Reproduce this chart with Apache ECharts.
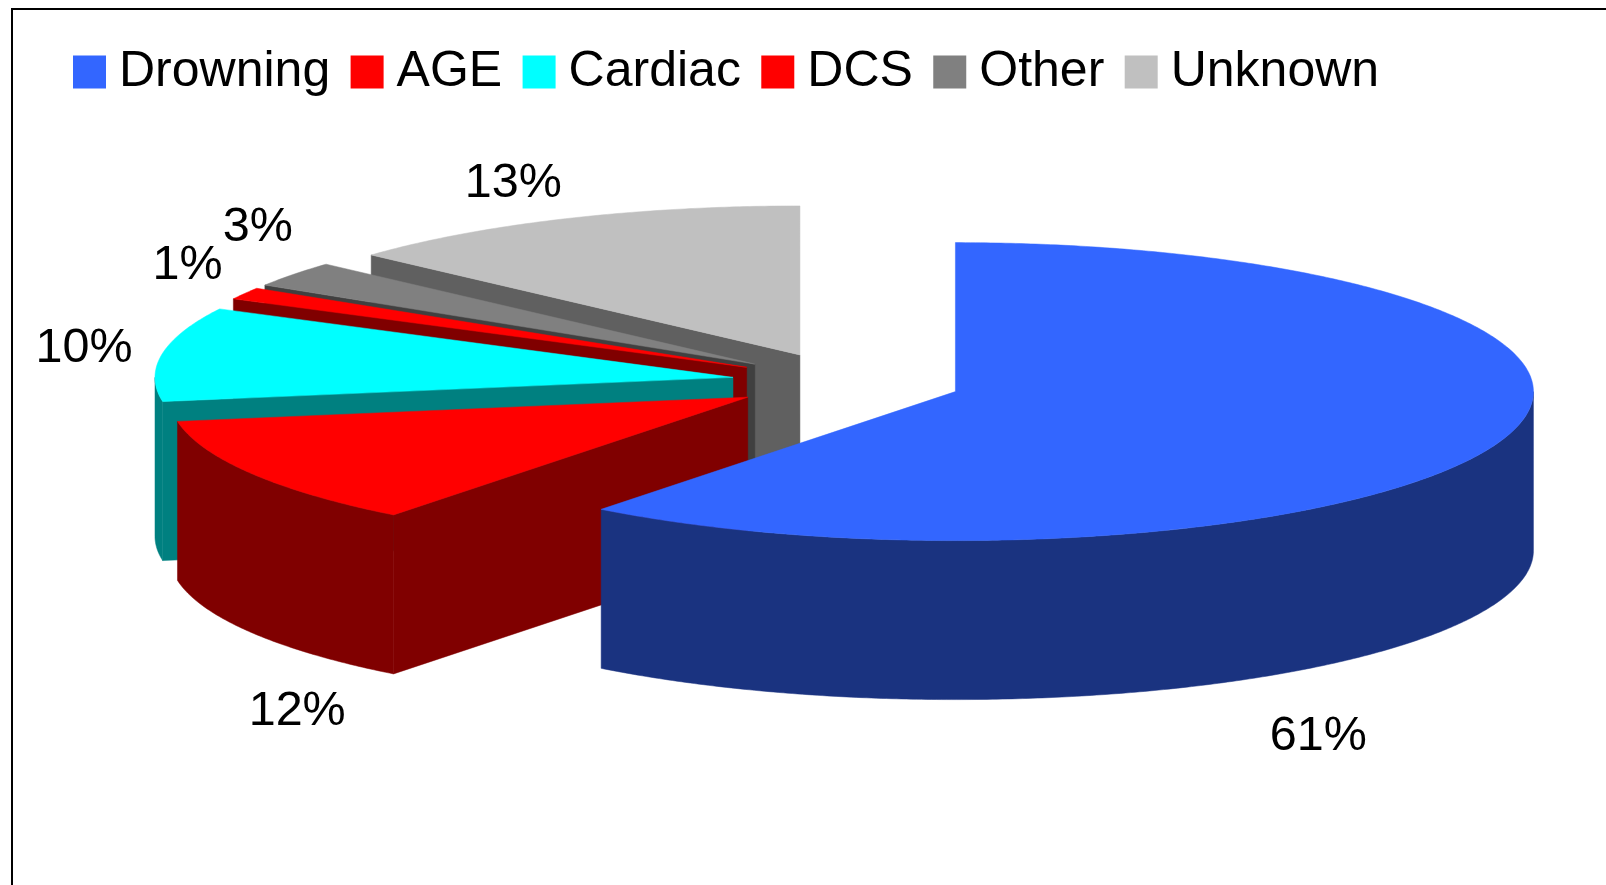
<!DOCTYPE html>
<html>
<head>
<meta charset="utf-8">
<style>html,body{margin:0;padding:0;background:#fff}#c{width:1606px;height:885px}</style>
<script src="https://cdn.jsdelivr.net/npm/echarts@6/dist/echarts.min.js"></script>
</head>
<body>
<div id="c"></div>
<script>
var categories = ['Drowning', 'AGE', 'Cardiac', 'DCS', 'Other', 'Unknown'];
var percents = [60.5, 11.9, 10.2, 1.3, 2.8, 13.3];

// Styles
var topColors = ['#3366ff', '#ff0000', '#00ffff', '#ff0000', '#808080', '#c0c0c0'];
var wallColors = ['#1a3380', '#800000', '#008080', '#800000', '#404040', '#606060'];
var FONT = '"Liberation Sans", Arial, sans-serif';

// Layout of the projected pie
var CX = 846.6, CY = 382, RX = 578, RY = 149, DEPTH = 159, EXPLODE = 0.199;
var labelOffsetX = [-184, 46, -78, -57, -36, -52];
var labelOffsetY = [297, 238, -5, -28, -46.5, -35];

var total = percents.reduce(function (a, b) { return a + b; }, 0);
var startFractions = [];
percents.reduce(function (acc, v, i) { startFractions[i] = acc; return acc + v; }, 0);

function rad(d) { return d * Math.PI / 180; }

function makeRender(idx) {
  return function (params, api) {
    var value = api.value(0);
    var a0 = startFractions[idx] / total * 360;
    var a1 = a0 + value / total * 360;
    var mid = rad((a0 + a1) / 2);
    var ox = CX + Math.sin(mid) * RX * EXPLODE;
    var oy = CY - Math.cos(mid) * RY * EXPLODE;
    function pt(deg, dz) {
      var t = rad(deg);
      return [ox + Math.sin(t) * RX, oy - Math.cos(t) * RY + (dz || 0)];
    }
    function arc(from, to, dz) {
      var pts = [], n = Math.max(2, Math.ceil(Math.abs(to - from) * 2));
      for (var i = 0; i <= n; i++) pts.push(pt(from + (to - from) * i / n, dz));
      return pts;
    }
    var children = [];
    function poly(points, fill) {
      children.push({ type: 'polygon', silent: true, shape: { points: points },
        style: { fill: fill, stroke: fill, lineWidth: 0.5 } });
    }
    var wall = wallColors[idx];
    // cut faces that look towards the viewer
    if (Math.sin(rad(a1)) > 0.001) {
      var e = pt(a1);
      poly([[ox, oy], e, [e[0], e[1] + DEPTH], [ox, oy + DEPTH]], wall);
    }
    if (Math.sin(rad(a0)) < -0.001) {
      var s = pt(a0);
      poly([[ox, oy], s, [s[0], s[1] + DEPTH], [ox, oy + DEPTH]], wall);
    }
    // outer wall: only the front half of the ellipse
    var w0 = Math.max(a0, 90), w1 = Math.min(a1, 270);
    if (w1 > w0) {
      poly(arc(w0, w1, 0).concat(arc(w1, w0, DEPTH)), wall);
    }
    // top face
    poly([[ox, oy]].concat(arc(a0, a1, 0)), topColors[idx]);
    // percentage label
    var m = (a0 + a1) / 2, lp = pt(m);
    children.push({
      type: 'text', silent: true, z2: 100,
      style: {
        x: lp[0] + labelOffsetX[idx], y: lp[1] + labelOffsetY[idx],
        text: Math.round(value) + '%', fill: '#000', font: '48.5px ' + FONT,
        align: 'center', verticalAlign: 'middle'
      }
    });
    return { type: 'group', children: children };
  };
}

var series = categories.map(function (name, i) {
  return {
    type: 'custom',
    name: name,
    coordinateSystem: 'none',
    data: [[percents[i]]],
    itemStyle: { color: topColors[i] },
    renderItem: makeRender(i),
    silent: true
  };
});
// paint from the back slice to the front slice
series.reverse();

var option = {
  animation: false,
  backgroundColor: '#ffffff',
  legend: {
    data: categories,
    left: 68, top: 42,
    icon: 'rect',
    itemWidth: 33, itemHeight: 33, itemGap: 20.4,
    selectedMode: false,
    textStyle: { fontFamily: FONT, fontSize: 50, color: '#000', padding: [0, 0, 0, 8] }
  },
  graphic: [{
    type: 'polyline', silent: true,
    shape: { points: [[12, 885], [12, 9], [1606, 9]] },
    style: { stroke: '#000', lineWidth: 2, fill: null }
  }],
  series: series
};
echarts.init(document.getElementById('c')).setOption(option);
</script>
</body>
</html>
